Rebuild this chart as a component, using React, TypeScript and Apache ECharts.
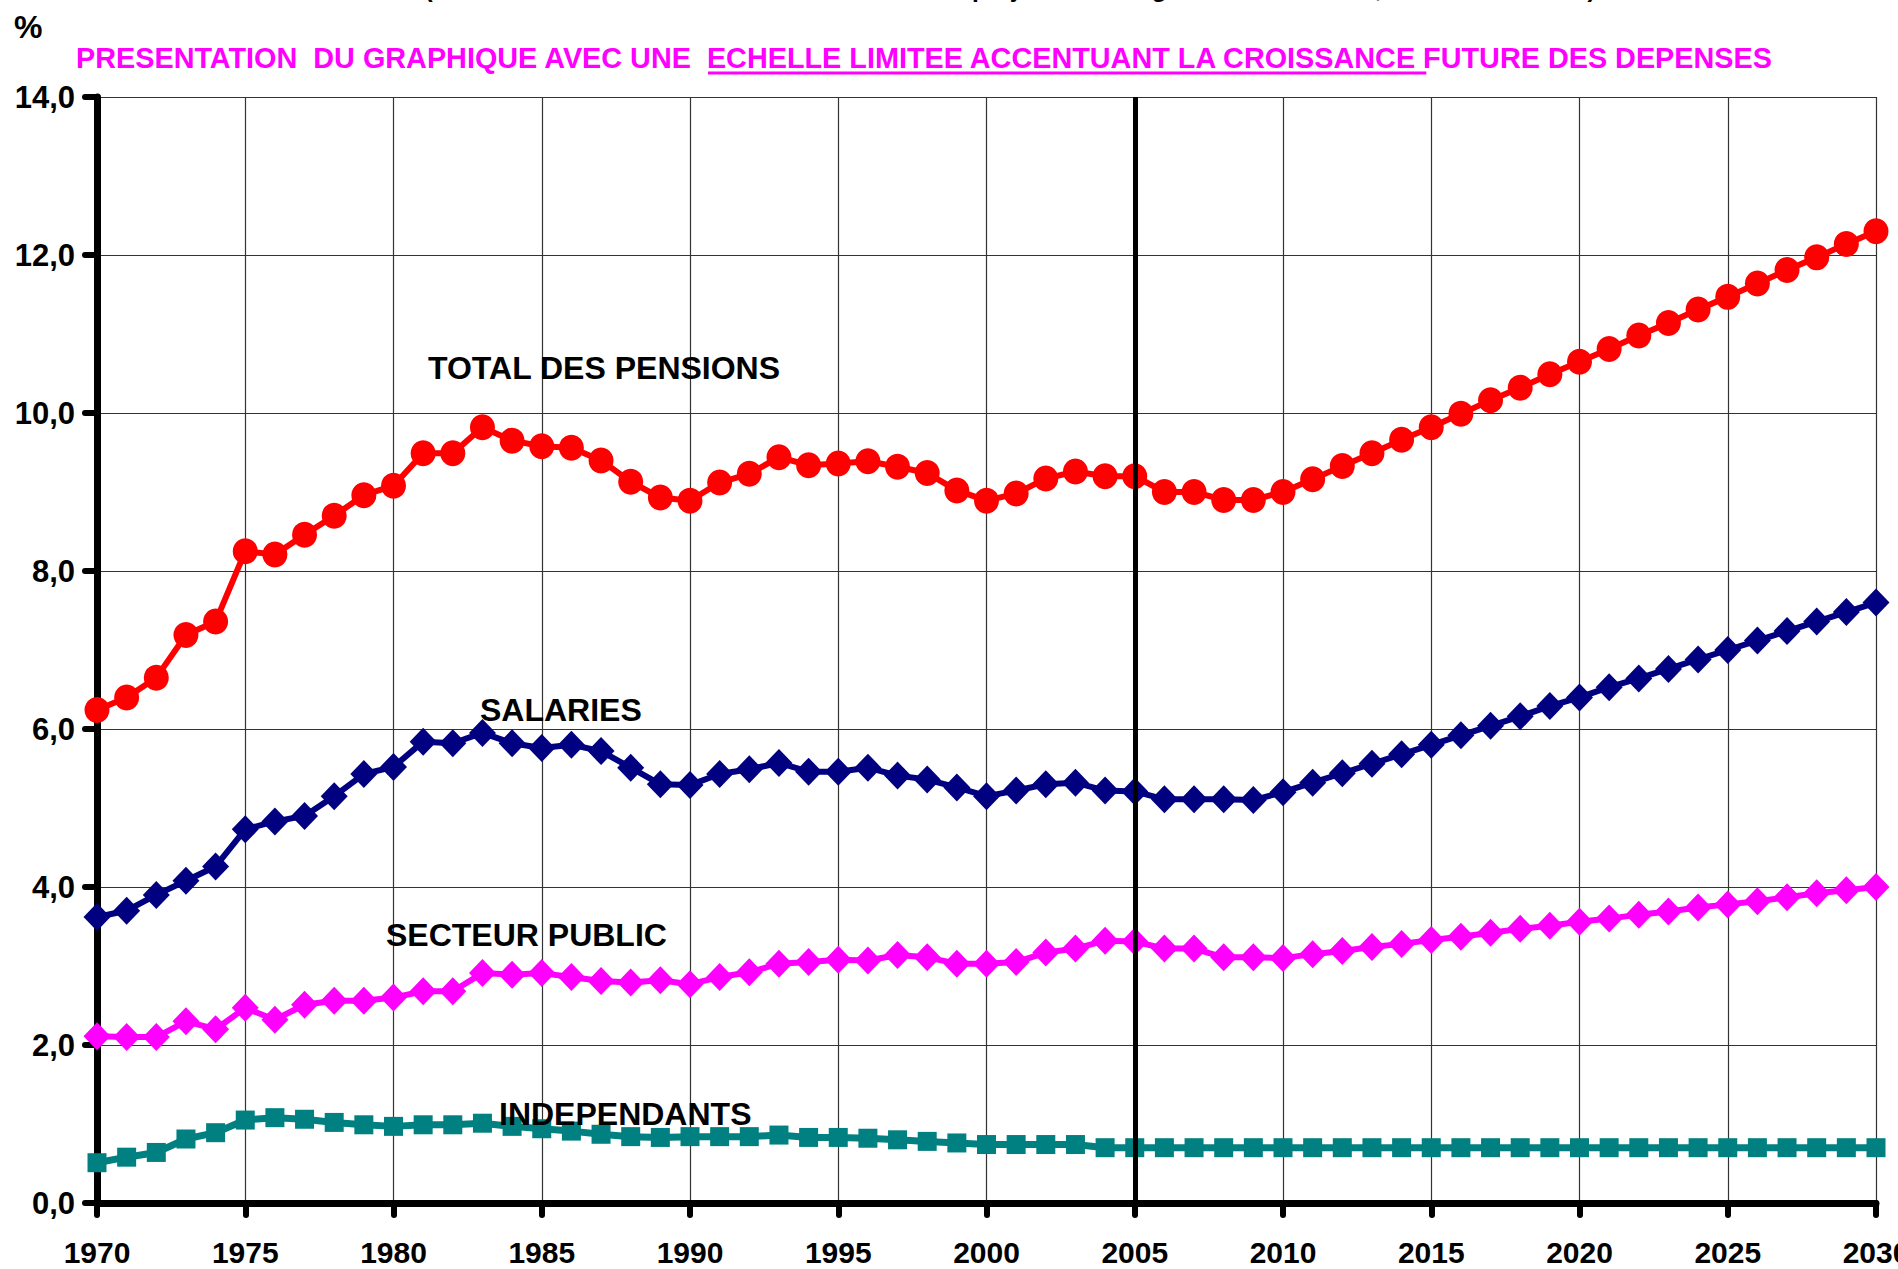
import React, { useEffect, useRef } from "react";
import * as echarts from "echarts";

const years = [
  1970, 1971, 1972, 1973, 1974, 1975, 1976, 1977, 1978, 1979,
  1980, 1981, 1982, 1983, 1984, 1985, 1986, 1987, 1988, 1989,
  1990, 1991, 1992, 1993, 1994, 1995, 1996, 1997, 1998, 1999,
  2000, 2001, 2002, 2003, 2004, 2005, 2006, 2007, 2008, 2009,
  2010, 2011, 2012, 2013, 2014, 2015, 2016, 2017, 2018, 2019,
  2020, 2021, 2022, 2023, 2024, 2025, 2026, 2027, 2028, 2029, 2030,
];

const totalPensions = [
  6.24, 6.40, 6.65, 7.19, 7.36, 8.25, 8.21, 8.46, 8.70, 8.96,
  9.08, 9.49, 9.49, 9.82, 9.65, 9.58, 9.56, 9.40, 9.13, 8.93,
  8.89, 9.12, 9.23, 9.44, 9.34, 9.36, 9.39, 9.32, 9.24, 9.02,
  8.89, 8.98, 9.17, 9.26, 9.20, 9.20, 9.00, 9.00, 8.90, 8.90,
  9.00, 9.16, 9.33, 9.49, 9.66, 9.82, 9.99, 10.16, 10.32, 10.49,
  10.65, 10.81, 10.98, 11.14, 11.31, 11.47, 11.64, 11.81, 11.97, 12.14, 12.30,
];

const salaries = [
  3.62, 3.70, 3.90, 4.08, 4.26, 4.73, 4.83, 4.90, 5.15, 5.43,
  5.52, 5.84, 5.82, 5.95, 5.82, 5.76, 5.80, 5.72, 5.51, 5.30,
  5.29, 5.43, 5.49, 5.57, 5.46, 5.46, 5.51, 5.41, 5.36, 5.26,
  5.15, 5.22, 5.30, 5.32, 5.22, 5.21, 5.11, 5.11, 5.11, 5.10,
  5.20, 5.32, 5.44, 5.56, 5.68, 5.80, 5.92, 6.04, 6.16, 6.29,
  6.40, 6.53, 6.64, 6.76, 6.88, 7.00, 7.12, 7.24, 7.36, 7.48, 7.60,
];

const secteurPublic = [
  2.11, 2.10, 2.10, 2.30, 2.20, 2.47, 2.32, 2.51, 2.56, 2.56,
  2.60, 2.68, 2.68, 2.91, 2.89, 2.91, 2.86, 2.81, 2.79, 2.82,
  2.77, 2.86, 2.92, 3.03, 3.05, 3.08, 3.07, 3.14, 3.11, 3.03,
  3.03, 3.05, 3.17, 3.22, 3.32, 3.31, 3.22, 3.22, 3.11, 3.11,
  3.10, 3.15, 3.19, 3.24, 3.28, 3.33, 3.37, 3.42, 3.47, 3.51,
  3.56, 3.60, 3.65, 3.69, 3.74, 3.78, 3.82, 3.87, 3.92, 3.96, 4.00,
];

const independants = [
  0.51, 0.58, 0.64, 0.81, 0.89, 1.05, 1.08, 1.06, 1.02, 0.99,
  0.97, 0.99, 0.99, 1.01, 0.97, 0.94, 0.91, 0.87, 0.84, 0.83,
  0.84, 0.84, 0.84, 0.86, 0.83, 0.83, 0.82, 0.80, 0.78, 0.76,
  0.74, 0.74, 0.74, 0.74, 0.70, 0.70, 0.70, 0.70, 0.70, 0.70,
  0.70, 0.70, 0.70, 0.70, 0.70, 0.70, 0.70, 0.70, 0.70, 0.70,
  0.70, 0.70, 0.70, 0.70, 0.70, 0.70, 0.70, 0.70, 0.70, 0.70, 0.70,
];

const seriesNames = ["TOTAL DES PENSIONS", "SALARIES", "SECTEUR PUBLIC", "INDEPENDANTS"];
const separatorYear = 2005;

const subtitleStart = "PRESENTATION  DU GRAPHIQUE AVEC UNE  ";
const subtitleUnderlined = "ECHELLE LIMITEE ACCENTUANT LA CROISSANCE ";
const subtitleEnd = "FUTURE DES DEPENSES";
const sourceText =
  "(Source : Conseil d'Orientation des Retraites – projections à législation constante, scénario de base)";

const FONT = '"Liberation Sans", Arial, Helvetica, sans-serif';
const W = 1898;
const H = 1269;

function pairs(vals: number[]) {
  return years.map((y, i) => [y, vals[i]]);
}

function measure(text: string, size: number) {
  const c = document.createElement("canvas");
  const ctx = c.getContext("2d");
  if (!ctx) return text.length * size * 0.6;
  ctx.font = `bold ${size}px ${FONT}`;
  return ctx.measureText(text).width;
}

export default function App() {
  const ref = useRef<HTMLDivElement>(null);

  useEffect(() => {
    if (!ref.current) return;
    document.body.style.margin = "0";
    document.body.style.overflow = "hidden";
    const chart = echarts.init(ref.current, null, { renderer: "svg", width: W, height: H });

    const subSize = 28.8;
    const subX = 76;
    const wStart = measure(subtitleStart, subSize);
    const wUnder = measure(subtitleUnderlined, subSize);

    const srcBase = 26;
    const srcW = measure(sourceText, srcBase);
    const srcSize = Math.max(18, Math.min(30, (srcBase * 1172) / srcW));

    const labelStyle = (text: string, x: number, y: number) => ({
      type: "text",
      x,
      y,
      z: 100,
      style: {
        text,
        fill: "#000",
        font: `bold 32px ${FONT}`,
        textAlign: "left",
        textVerticalAlign: "middle",
      },
    });

    const option: any = {
      animation: false,
      backgroundColor: "#ffffff",
      grid: {
        left: 97,
        right: 22,
        top: 97,
        bottom: 66,
        containLabel: false,
        outerBoundsMode: "none",
      },
      xAxis: {
        type: "value",
        min: 1970,
        max: 2030,
        interval: 5,
        axisLine: { show: true, onZero: false, lineStyle: { color: "#000", width: 7 } },
        axisTick: { show: true, inside: false, length: 12, lineStyle: { color: "#000", width: 6, cap: "round" } },
        axisLabel: {
          show: true,
          margin: 34,
          color: "#000",
          fontFamily: FONT,
          fontWeight: "bold",
          fontSize: 30,
          hideOverlap: false,
          formatter: (v: number) => String(v),
        },
        splitLine: { show: true, lineStyle: { color: "#333", width: 1.2 } },
      },
      yAxis: {
        type: "value",
        min: 0,
        max: 14,
        interval: 2,
        axisLine: { show: true, lineStyle: { color: "#000", width: 7 } },
        axisTick: { show: true, inside: false, length: 12, lineStyle: { color: "#000", width: 6, cap: "round" } },
        axisLabel: {
          show: true,
          margin: 22,
          color: "#000",
          fontFamily: FONT,
          fontWeight: "bold",
          fontSize: 31,
          formatter: (v: number) => v.toFixed(1).replace(".", ","),
        },
        splitLine: { show: true, lineStyle: { color: "#333", width: 1.2 } },
      },
      series: [
        {
          name: seriesNames[0],
          type: "line",
          data: pairs(totalPensions),
          symbol: "circle",
          symbolSize: [25, 26],
          itemStyle: { color: "#ff0000" },
          lineStyle: { color: "#ff0000", width: 6 },
          z: 4,
        },
        {
          name: seriesNames[1],
          type: "line",
          data: pairs(salaries),
          symbol: "diamond",
          symbolSize: [27, 28],
          itemStyle: { color: "#000080" },
          lineStyle: { color: "#000080", width: 6 },
          z: 3,
        },
        {
          name: seriesNames[2],
          type: "line",
          data: pairs(secteurPublic),
          symbol: "diamond",
          symbolSize: [27, 28],
          itemStyle: { color: "#ff00ff" },
          lineStyle: { color: "#ff00ff", width: 6 },
          z: 3,
        },
        {
          name: seriesNames[3],
          type: "line",
          data: pairs(independants),
          symbol: "rect",
          symbolSize: [19, 19],
          itemStyle: { color: "#008080" },
          lineStyle: { color: "#008080", width: 7 },
          z: 3,
          markLine: {
            silent: true,
            symbol: ["none", "none"],
            label: { show: false },
            z: 20,
            lineStyle: { color: "#000", width: 5, type: "solid" },
            data: [{ xAxis: separatorYear }],
          },
        },
      ],
      graphic: [
        {
          type: "text",
          x: 1010,
          y: -12,
          style: {
            text: sourceText,
            fill: "#000",
            font: `bold ${srcSize}px ${FONT}`,
            textAlign: "center",
            textVerticalAlign: "middle",
          },
        },
        {
          type: "text",
          x: 14,
          y: 27,
          style: {
            text: "%",
            fill: "#000",
            font: `bold 32px ${FONT}`,
            textAlign: "left",
            textVerticalAlign: "middle",
          },
        },
        {
          type: "text",
          x: subX,
          y: 58,
          style: {
            text: subtitleStart + subtitleUnderlined + subtitleEnd,
            fill: "#ff00ff",
            font: `bold ${subSize}px ${FONT}`,
            textAlign: "left",
            textVerticalAlign: "middle",
          },
        },
        {
          type: "line",
          shape: { x1: subX + wStart, y1: 73, x2: subX + wStart + wUnder, y2: 73 },
          style: { stroke: "#ff00ff", lineWidth: 3 },
        },
        labelStyle(seriesNames[0], 428, 368),
        labelStyle(seriesNames[1], 480, 710),
        labelStyle(seriesNames[2], 386, 935),
        labelStyle(seriesNames[3], 499, 1114),
      ],
    };

    chart.setOption(option);
    return () => {
      chart.dispose();
    };
  }, []);

  return (
    <div
      ref={ref}
      style={{ position: "fixed", left: 0, top: 0, width: W, height: H, background: "#fff", overflow: "hidden" }}
    />
  );
}
